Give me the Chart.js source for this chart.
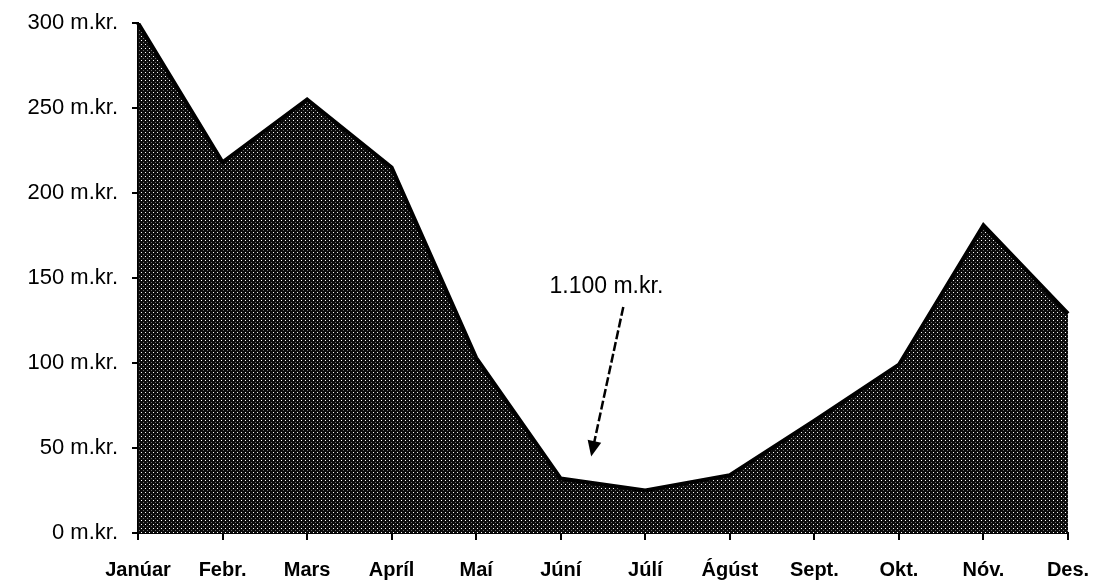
<!DOCTYPE html>
<html>
<head>
<meta charset="utf-8">
<script src="https://cdn.jsdelivr.net/npm/chart.js@4/dist/chart.umd.min.js"></script>
<style>
    html, body { margin: 0; padding: 0; background: #fff; }
    #wrap { width: 1094px; height: 588px; position: relative; }
</style>
</head>
<body>
<div id="wrap"><canvas id="areaChart"></canvas></div>
<script>
    // Mánuðir og gildi (m.kr.)
    const months = ['Janúar', 'Febr.', 'Mars', 'Apríl', 'Maí', 'Júní', 'Júlí', 'Ágúst', 'Sept.', 'Okt.', 'Nóv.', 'Des.'];
    const values = [300, 218, 255, 215, 103, 32, 25, 34, 66, 99, 181, 129];
    const yTicks = [0, 50, 100, 150, 200, 250, 300];

    // Skýring: texti og ör (í gildum ásanna)
    const noteText = '1.100 m.kr.';
    const notePos = [5.54, 145];
    const arrowFrom = [5.74, 133];
    const arrowTo = [5.36, 45];

    // Dithered fylling eins og í gamla prentinu
    function makePattern() {
        const c = document.createElement('canvas');
        c.width = 4;
        c.height = 4;
        const g = c.getContext('2d');
        g.fillStyle = '#0c0c0c';
        g.fillRect(0, 0, 4, 4);
        g.fillStyle = '#ffffff';
        g.fillRect(1, 0, 1, 1);
        g.fillStyle = '#6a6a6a';
        g.fillRect(3, 2, 1, 1);
        return g.createPattern(c, 'repeat');
    }

    const notePlugin = {
        id: 'note',
        afterDatasetsDraw(chart) {
            const ctx = chart.ctx;
            const x = chart.scales.x;
            const y = chart.scales.y;
            const fx = x.getPixelForValue(arrowFrom[0]);
            const fy = y.getPixelForValue(arrowFrom[1]);
            const tx = x.getPixelForValue(arrowTo[0]);
            const ty = y.getPixelForValue(arrowTo[1]);
            const ang = Math.atan2(ty - fy, tx - fx);
            const head = 17;

            ctx.save();
            ctx.strokeStyle = '#000';
            ctx.lineWidth = 2.5;
            ctx.setLineDash([9, 3]);
            ctx.beginPath();
            ctx.moveTo(fx, fy);
            ctx.lineTo(tx - Math.cos(ang) * head * 0.8, ty - Math.sin(ang) * head * 0.8);
            ctx.stroke();
            ctx.setLineDash([]);

            ctx.fillStyle = '#000';
            ctx.beginPath();
            ctx.moveTo(tx, ty);
            ctx.lineTo(tx - head * Math.cos(ang - 0.42), ty - head * Math.sin(ang - 0.42));
            ctx.lineTo(tx - head * Math.cos(ang + 0.42), ty - head * Math.sin(ang + 0.42));
            ctx.closePath();
            ctx.fill();

            ctx.font = '23px "Liberation Sans", Arial, sans-serif';
            ctx.textAlign = 'center';
            ctx.textBaseline = 'middle';
            ctx.fillText(noteText, x.getPixelForValue(notePos[0]), y.getPixelForValue(notePos[1]));
            ctx.restore();
        }
    };

    const ctx = document.getElementById('areaChart').getContext('2d');

    new Chart(ctx, {
        type: 'line',
        data: {
            labels: months,
            datasets: [{
                data: values,
                fill: 'origin',
                backgroundColor: makePattern(),
                borderColor: '#000',
                borderWidth: 4,
                tension: 0,
                pointRadius: 0
            }]
        },
        options: {
            responsive: true,
            maintainAspectRatio: false,
            animation: false,
            layout: {
                padding: { top: 23, right: 26, left: 0, bottom: 0 }
            },
            plugins: {
                legend: { display: false },
                tooltip: { enabled: false }
            },
            scales: {
                x: {
                    offset: false,
                    border: { display: true, color: '#000', width: 2 },
                    grid: { display: true, drawOnChartArea: false, drawTicks: true, tickLength: 7, color: '#000', lineWidth: 2 },
                    ticks: {
                        autoSkip: false,
                        maxRotation: 0,
                        padding: 18,
                        color: '#000',
                        font: { family: '"Liberation Sans", Arial, sans-serif', size: 20, weight: 'bold' }
                    },
                    afterFit: function(scale) {
                        scale.height = 55;
                        scale.paddingLeft = 0;
                        scale.paddingRight = 0;
                    }
                },
                y: {
                    min: 0,
                    max: 300,
                    afterBuildTicks: function(scale) {
                        scale.ticks = yTicks.map(function(v) { return { value: v }; });
                    },
                    border: { display: true, color: '#000', width: 2 },
                    grid: { display: true, drawOnChartArea: false, drawTicks: true, tickLength: 6, color: '#000', lineWidth: 2 },
                    ticks: {
                        padding: 14,
                        color: '#000',
                        font: { family: '"Liberation Sans", Arial, sans-serif', size: 22 },
                        callback: function(value) {
                            return value + ' m.kr.';
                        }
                    },
                    afterFit: function(scale) {
                        scale.width = 138;
                        scale.paddingTop = 0;
                        scale.paddingBottom = 0;
                    }
                }
            }
        },
        plugins: [notePlugin]
    });
</script>
</body>
</html>
